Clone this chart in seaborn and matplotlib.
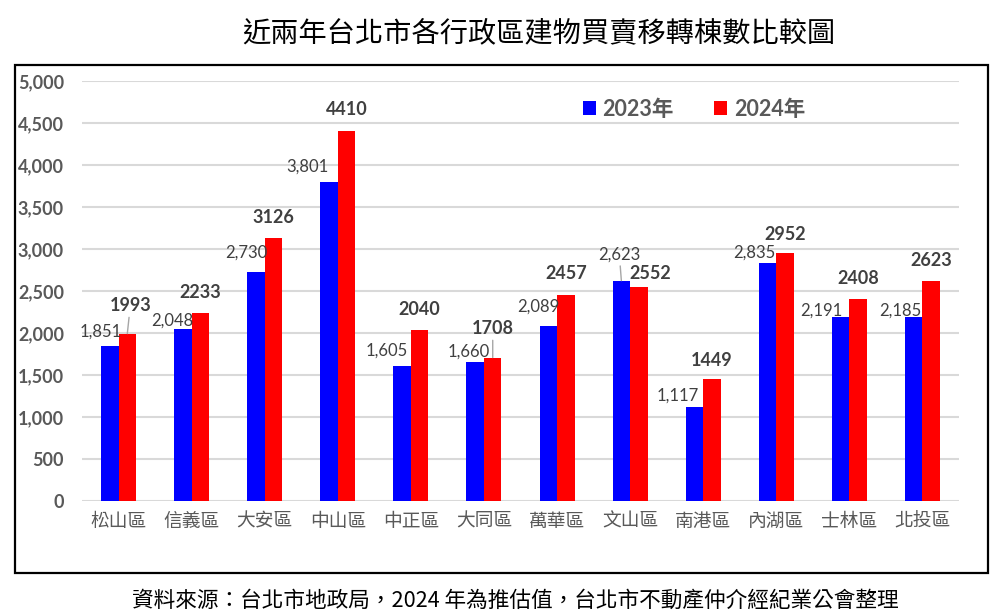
import matplotlib
matplotlib.use("Agg")
import matplotlib.pyplot as plt
import seaborn as sns
import pandas as pd
from matplotlib.patches import Patch, Rectangle
from matplotlib.ticker import FuncFormatter

# ---- data ----
districts = ["松山區", "信義區", "大安區", "中山區", "中正區", "大同區",
             "萬華區", "文山區", "南港區", "內湖區", "士林區", "北投區"]
years = ["2023年", "2024年"]
values_2023 = [1851, 2048, 2730, 3801, 1605, 1660, 2089, 2623, 1117, 2835, 2191, 2185]
values_2024 = [1993, 2233, 3126, 4410, 2040, 1708, 2457, 2552, 1449, 2952, 2408, 2623]
title_text = "近兩年台北市各行政區建物買賣移轉棟數比較圖"
source_text = "資料來源：台北市地政局，2024 年為推估值，台北市不動產仲介經紀業公會整理"

# label placement offsets (pixels, dx right / dy up) relative to bar top centre
off_2023 = [(-9, 14), (-11, 8), (-10, 19), (-22, 15), (-15, 16), (-6, 10),
            (-10, 19), (-2, 26), (-17, 12), (-13, 10), (-19, 6), (-13, 7)]
off_2024 = [(3, 28), (0, 21), (0, 21), (0, 21), (0, 20), (0, 29),
            (0, 21), (11, 13), (0, 19), (0, 19), (0, 20), (0, 20)]
leader_2023 = [False] * 7 + [True] + [False] * 4
leader_2024 = [True] + [False] * 4 + [True] + [False] * 6

df = pd.DataFrame({
    "district": districts * 2,
    "year": [years[0]] * len(districts) + [years[1]] * len(districts),
    "count": values_2023 + values_2024,
})

sns.set_theme(style="white")
CJK = ["Noto Sans CJK TC", "DejaVu Sans"]
NUM = ["Lato", "Noto Sans CJK TC", "DejaVu Sans"]
plt.rcParams["font.family"] = CJK

W, H = 1002, 613
fig = plt.figure(figsize=(W / 100, H / 100), dpi=100)
ax = fig.add_axes([82 / W, 1 - 501 / H, (959 - 82) / W, (501 - 81) / H])

colors = {years[0]: "#0000FF", years[1]: "#FF0000"}
sns.barplot(data=df, x="district", y="count", hue="year", palette=colors,
            width=0.48, saturation=1, linewidth=0, gap=0, ax=ax, legend=False,
            errorbar=None)

ax.set_ylim(0, 5000)
ax.set_xlim(-0.5, len(districts) - 0.5)
ax.set_yticks(range(0, 5001, 500))
ax.yaxis.set_major_formatter(FuncFormatter(lambda v, p: f"{int(v):,}"))
ax.set_xlabel("")
ax.set_ylabel("")
ax.yaxis.grid(True, color="#d9d9d9", linewidth=1.5)
ax.xaxis.grid(False)
ax.set_axisbelow(True)
for s in ax.spines.values():
    s.set_visible(False)
ax.tick_params(axis="both", length=0)
ax.tick_params(axis="y", pad=13)
ax.tick_params(axis="x", pad=7)
for t in ax.get_yticklabels():
    t.set_fontfamily(NUM)
    t.set_fontweight("bold")
    t.set_fontsize(13)
    t.set_color("#595959")
for t in ax.get_xticklabels():
    t.set_fontfamily(CJK)
    t.set_fontsize(13.5)
    t.set_color("#595959")

# ---- data labels ----
lead = dict(arrowstyle="-", color="#a6a6a6", lw=1, shrinkA=0, shrinkB=0)
for bar, v, (dx, dy), ld in zip(ax.containers[0], values_2023, off_2023, leader_2023):
    x = bar.get_x() + bar.get_width() / 2
    ax.annotate(f"{v:,}", xy=(x, bar.get_height()), xytext=(dx, dy),
                textcoords="offset pixels", ha="center", va="center",
                fontsize=12, color="#404040", family=NUM,
                arrowprops=lead if ld else None)
for bar, v, (dx, dy), ld in zip(ax.containers[1], values_2024, off_2024, leader_2024):
    x = bar.get_x() + bar.get_width() / 2
    ax.annotate(f"{v}", xy=(x, bar.get_height()), xytext=(dx, dy),
                textcoords="offset pixels", ha="center", va="center",
                fontsize=13, fontweight="bold", color="#404040", family=NUM,
                arrowprops=lead if ld else None)

# ---- legend ----
handles = [Patch(facecolor=colors[y], edgecolor="none", label=y) for y in years]
leg = fig.legend(handles=handles, loc="center left",
                 bbox_to_anchor=(572 / W, 1 - 109 / H), ncol=2, frameon=False,
                 borderpad=0, handlelength=0.6, handleheight=0.6,
                 handletextpad=0.3, columnspacing=1.9,
                 prop={"family": NUM, "weight": "bold", "size": 15.5})
for t in leg.get_texts():
    t.set_color("#595959")

# ---- border, title, source ----
fig.add_artist(Rectangle((15 / W, 1 - 573 / H), (988 - 15) / W, (573 - 65) / H,
                         transform=fig.transFigure, fill=False,
                         edgecolor="black", linewidth=1.6))
fig.text(539 / W, 1 - 33 / H, title_text, ha="center", va="center",
         fontsize=20.3, color="black", family=CJK)
fig.text(515 / W, 1 - 601 / H, source_text, ha="center", va="center",
         fontsize=15.6, color="black", family=CJK)

fig.savefig("out.png", dpi=100, facecolor="white")
